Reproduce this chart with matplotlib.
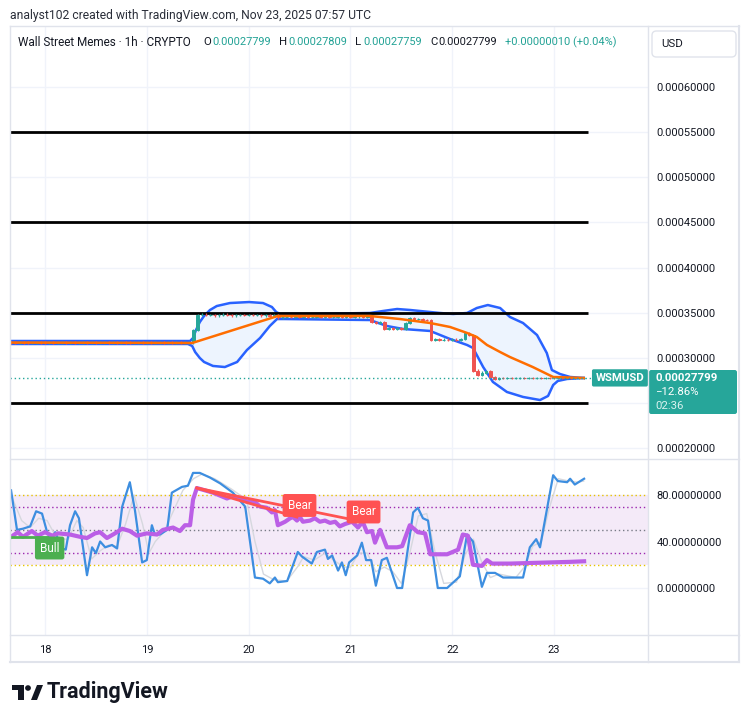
import numpy as np
import matplotlib
matplotlib.use("Agg")
import matplotlib.pyplot as plt
from matplotlib.patches import FancyBboxPatch, Circle, Polygon
from matplotlib.lines import Line2D

plt.rcParams['font.family'] = ['Roboto', 'DejaVu Sans']

W, H = 750, 723

# ---------------- data ----------------
# one bar per hour, first bar = Nov 17 16:00 UTC
days = ["18", "19", "20", "21", "22", "23"]
day_bar = [8, 32, 56, 80, 104, 128]

closes = [
    0.0003172, 0.0003169, 0.0003174, 0.0003170, 0.0003167, 0.0003171, 0.0003175, 0.0003170, 0.0003168, 0.0003173,
    0.0003169, 0.0003171, 0.0003174, 0.0003168, 0.0003170, 0.0003166, 0.0003171, 0.0003173, 0.0003169, 0.0003172,
    0.0003167, 0.0003170, 0.0003174, 0.0003169, 0.0003171, 0.0003168, 0.0003172, 0.0003170, 0.0003166, 0.0003170,
    0.0003173, 0.0003169, 0.0003171, 0.0003167, 0.0003170, 0.0003173, 0.0003168, 0.0003171, 0.0003169, 0.0003172,
    0.0003168, 0.0003170, 0.0003172,
    0.0003310, 0.0003476,
    0.0003481, 0.0003474, 0.0003478, 0.0003472, 0.0003477, 0.0003480, 0.0003475, 0.0003471, 0.0003476, 0.0003479,
    0.0003473, 0.0003477, 0.0003474, 0.0003478, 0.0003472, 0.0003476, 0.0003470, 0.0003474,
    0.0003448,
    0.0003452, 0.0003459, 0.0003455, 0.0003462, 0.0003457, 0.0003460, 0.0003454, 0.0003458, 0.0003463, 0.0003456,
    0.0003461, 0.0003455, 0.0003459, 0.0003464, 0.0003457, 0.0003461, 0.0003456, 0.0003460, 0.0003466, 0.0003458,
    0.0003462,
    0.0003400, 0.0003392, 0.0003395, 0.0003325, 0.0003335, 0.0003318, 0.0003330, 0.0003322, 0.0003387, 0.0003442,
    0.0003428, 0.0003433, 0.0003421, 0.0003417,
    0.0003200,
    0.0003207, 0.0003199, 0.0003204, 0.0003198, 0.0003203, 0.0003197, 0.0003210,
    0.0003272, 0.0003256, 0.0002860, 0.0002815, 0.0002838, 0.0002856, 0.0002792, 0.0002770,
    0.0002781, 0.0002777, 0.0002780, 0.0002776, 0.0002779, 0.0002782, 0.0002778, 0.0002780, 0.0002777, 0.0002781,
    0.0002778, 0.0002780, 0.0002776, 0.0002779, 0.0002781, 0.0002778, 0.0002780, 0.0002777, 0.0002779, 0.0002779,
    0.00027799,
]

# Bollinger bands (bar index, price)
upper_i = [0, 42.2, 42.9, 43.6, 44.5, 45.5, 46.9, 48.5, 51.6, 56.1, 59.4, 61.5, 62.5, 63.4, 70, 84.6, 87.7, 91.0,
           94.1, 96.4, 101.1, 104.2, 107.5, 109.8, 112.4, 115.3, 117.6, 120.7, 124.0, 126.3, 127.5, 129.4, 131.8, 135]
upper_p = [0.0003188, 0.0003188, 0.0003221, 0.0003310, 0.0003398, 0.0003465, 0.0003531, 0.0003575, 0.0003608,
           0.0003619, 0.0003608, 0.0003564, 0.0003509, 0.0003487, 0.0003487, 0.0003498, 0.0003520, 0.0003542,
           0.0003531, 0.0003520, 0.0003498, 0.0003487, 0.0003498, 0.0003553, 0.0003586, 0.0003553, 0.0003454,
           0.0003387, 0.0003254, 0.0003055, 0.0002867, 0.0002823, 0.0002790, 0.0002779]
lower_i = [0, 41.7, 42.7, 43.4, 44.5, 45.5, 47.6, 50.4, 53.3, 55.6, 58.7, 61.0, 62.7, 64.6, 84.6, 88.6, 92.4, 98.8,
           103.5, 107.5, 108.9, 111.3, 113.6, 116.9, 120.7, 124.7, 126.6, 127.8, 128.9, 131.1, 135]
lower_p = [0.0003155, 0.0003155, 0.0003133, 0.0003066, 0.0003000, 0.0002956, 0.0002912, 0.0002900, 0.0002956,
           0.0003088, 0.0003221, 0.0003354, 0.0003431, 0.0003431, 0.0003420, 0.0003354, 0.0003321, 0.0003299,
           0.0003210, 0.0003144, 0.0003111, 0.0002900, 0.0002735, 0.0002624, 0.0002569, 0.0002535, 0.0002580,
           0.0002701, 0.0002746, 0.0002768, 0.0002779]
mid_i = [0, 42.7, 62.9, 84.6, 91.7, 98.8, 103.5, 107.5, 109.8, 112.2, 115.3, 117.6, 123.0, 127.8, 135]
mid_p = [0.0003171, 0.0003166, 0.0003465, 0.0003465, 0.0003431, 0.0003387, 0.0003343, 0.0003277, 0.0003232,
         0.0003144, 0.0003066, 0.0003011, 0.0002900, 0.0002790, 0.0002779]

levels = [0.00055, 0.00045, 0.00035, 0.00025]
price_ticks = [0.0006, 0.00055, 0.0005, 0.00045, 0.0004, 0.00035, 0.0003, 0.0002]
grid_prices = [0.0006, 0.00055, 0.0005, 0.00045, 0.0004, 0.00035, 0.0003, 0.00025, 0.0002]
last_price = 0.00027799

# oscillator pane
blue_i = [0, 1.4, 2.8, 4.5, 5.9, 7.3, 8.5, 9.4, 10.4, 12.0, 12.9, 13.9, 15.1, 16.0, 17.9, 19.1, 20.0, 21.0, 22.2,
          23.8, 25.0, 26.2, 28.0, 29.2, 30.9, 32.0, 33.2, 33.9, 35.1, 36.8, 37.9, 40.3, 41.7, 42.9, 44.5, 46.9,
          49.3, 52.3, 55.2, 57.5, 59.4, 61.0, 62.2, 62.9, 65.1, 67.6, 68.6, 70.9, 72.1, 74.0, 74.7, 75.7, 77.1,
          78.0, 78.9, 79.7, 81.6, 82.7, 83.7, 84.9, 86.0, 87.4, 88.6, 91.0, 92.2, 94.8, 95.9, 97.1, 98.3, 100.6,
          102.8, 105.8, 107.5, 108.9, 111.0, 112.2, 114.1, 116.0, 120.7, 122.3, 123.8, 124.7, 127.8, 128.9, 131.1,
          131.8, 132.9, 135.1]
blue_v = [84, 50, 51, 53, 66, 64, 48, 42, 48, 34, 33, 54, 66, 60, 11, 35, 30, 40, 35,
          37, 34, 70, 91, 67, 22, 24, 54, 46, 46, 50, 82, 87, 88, 99, 99, 95,
          90, 82, 70, 9, 8, 4, 9, 5, 6, 31, 27, 21, 31, 33, 25, 28, 15,
          22, 11, 22, 28, 39, 24, 24, 2, 24, 26, 0, 0, 65, 69, 60, 58, 0,
          0, 10, 46, 40, 1, 13, 13, 9, 9, 35, 42, 35, 97, 92, 91,
          94, 89, 94]
gray_i = [0, 2.5, 4.5, 6.5, 8.5, 10, 12, 13.5, 15.5, 17, 19, 21, 23, 25, 27, 29, 31, 32.5, 34, 36, 38, 40.5, 43,
          45, 48, 52, 55.5, 57.5, 59.5, 62, 65, 67.5, 69, 71.5, 74, 76, 78.5, 80, 82, 84, 86, 88, 90, 92, 94, 96,
          98, 100, 102, 105, 107, 109, 111, 113, 115, 119, 121, 123, 125, 127, 129, 131.5, 133.5, 135]
gray_v = [80, 58, 52, 60, 58, 48, 42, 42, 58, 52, 25, 32, 37, 36, 55, 80, 55, 30, 40, 48, 64, 84, 94,
          98, 94, 85, 76, 40, 12, 7, 6, 18, 27, 24, 30, 24, 18, 18, 30, 30, 14, 18, 14, 4, 30, 62,
          64, 30, 4, 5, 28, 42, 22, 9, 12, 9, 18, 36, 40, 70, 94, 92, 91, 92]
rsi_i = [0, 1.6, 2.8, 4.9, 6.3, 8.0, 9.7, 11.1, 13.9, 16.3, 17.9, 19.8, 21.0, 22.6, 24.5, 26.2, 28.0, 29.7, 32.0,
         34.4, 35.8, 38.2, 39.8, 41.0, 42.2, 42.9, 43.8, 47.6, 50.9, 52.3, 53.9, 55.9, 57.5, 58.7, 60.3, 61.5,
         62.2, 62.9, 64.6, 65.8, 66.5, 67.4, 68.1, 68.8, 70.5, 71.6, 72.8, 74.0, 75.2, 76.4, 77.5, 78.7, 80.4,
         81.8, 82.9, 83.9, 85.1, 85.8, 87.0, 88.6, 91.0, 92.2, 94.0, 95.9, 97.6, 98.8, 102.8, 105.4, 106.5,
         107.7, 108.9, 111.0, 112.2, 113.4, 117.6, 122.3, 127.1, 131.8, 135.1]
rsi_v = [44, 48, 44, 49, 45, 48, 45, 47, 46, 44, 43, 47, 48, 43, 47, 51, 49, 45, 47,
         46, 50, 52, 49, 54, 54, 76, 86, 82, 77, 79, 77, 74, 74, 70, 69, 65,
         67, 54, 57, 60, 61, 58, 61, 57, 58, 60, 57, 58, 56, 57, 53, 55, 57,
         52, 57, 48, 49, 39, 50, 35, 35, 36, 54, 48, 47, 29, 29, 33, 46,
         45, 20, 19, 24, 21, 21, 21.5, 22, 22.5, 23]

bear_start = (43.8, 86)
bear_ends = [(67.4, 61), (82.9, 57)]
bear_labels = [(68.0, 71), (83.1, 65.4)]
bull_line = ([0, 8.5], [44, 44])
bull_label = (9.1, 34.4)

osc_ticks = [80, 40, 0]

# ---------------- figure ----------------
TXT = '#131722'
GRID = '#f0f3fa'
BORDER = '#e0e3eb'
UP, DOWN = '#26a69a', '#ef5350'

fig = plt.figure(figsize=(7.5, 7.23), dpi=100)
fig.patch.set_facecolor('white')


def fx(x):
    return x / W


def fy(y):
    return 1 - y / H


ax = fig.add_axes([fx(10), fy(459), (648 - 10) / W, (459 - 26) / H])
ax2 = fig.add_axes([fx(10), fy(635), (648 - 10) / W, (635 - 459) / H])
for a in (ax, ax2):
    for s in a.spines.values():
        s.set_visible(False)
    a.set_xlim(-0.25, 150.16)
    for d in day_bar:
        a.axvline(d, color=GRID, lw=1, zorder=0)

# ---- price pane ----
ax.set_ylim(0.00018827, 0.00066726)
for g in grid_prices:
    ax.axhline(g, color=GRID, lw=1, zorder=0)

poly_x = np.concatenate([upper_i, lower_i[::-1]])
poly_y = np.concatenate([upper_p, lower_p[::-1]])
ax.fill(poly_x, poly_y, color='#edf4fe', zorder=1, lw=0)
ax.plot(upper_i, upper_p, color='#2962ff', lw=1.8, zorder=2, solid_joinstyle='round')
ax.plot(lower_i, lower_p, color='#2962ff', lw=1.8, zorder=2, solid_joinstyle='round')

ax.hlines(levels, -0.25, 136.0, color='black', lw=2, zorder=2.5)

c = np.array(closes)
o = np.concatenate([[c[0] + 0.0000002], c[:-1]])
xb = np.arange(len(c))
hi = np.maximum(o, c) + 0.0000013
lo = np.minimum(o, c) - 0.0000013
cols = [UP if cc >= oo else DOWN for oo, cc in zip(o, c)]
ax.vlines(xb, lo, hi, colors=cols, lw=0.9, zorder=3)
ax.bar(xb, c - o, bottom=o, width=0.62, color=cols, edgecolor=cols, lw=0.7, zorder=3)

ax.plot(mid_i, mid_p, color='#ff6d00', lw=1.8, zorder=4)

ax.hlines(last_price, -0.25, 138.3, color='#26a69a', lw=1, linestyles=(0, (1, 2)), zorder=4)
ax.text(149.3, last_price, 'WSMUSD', color='white', fontsize=8.2, fontweight='bold', ha='right', va='center',
        bbox=dict(boxstyle='round,pad=0.32,rounding_size=0.15', fc='#26a69a', ec='none'), zorder=6)

ax.yaxis.tick_right()
ax.set_yticks(price_ticks)
ax.set_yticklabels([f'{v:.8f}' for v in price_ticks])
ax.tick_params(axis='y', length=0, pad=6, labelsize=8, colors=TXT)
ax.set_xticks([])

# ---- oscillator pane ----
ax2.set_ylim(-40.43, 110.97)
for g in [80, 40, 0]:
    ax2.axhline(g, color=GRID, lw=1, zorder=0)
ax2.axhspan(20, 80, color='#f4eaf8', zorder=0.5, lw=0)
ax2.axhline(80, color='#e6c300', lw=1, ls=(0, (1, 2)), zorder=1)
ax2.axhline(20, color='#e6c300', lw=1, ls=(0, (1, 2)), zorder=1)
ax2.axhline(70, color='#9c27b0', lw=1, ls=(0, (1, 2)), zorder=1)
ax2.axhline(30, color='#9c27b0', lw=1, ls=(0, (1, 2)), zorder=1)
ax2.axhline(50, color='#787b86', lw=1, ls=(0, (1, 2)), zorder=1)

ax2.plot(gray_i, gray_v, color='#d6d8de', lw=1, zorder=2)
ax2.plot(blue_i, blue_v, color='#3d8ee0', lw=1.6, zorder=3)
ax2.plot(rsi_i, rsi_v, color='#bb5fe6', lw=3, zorder=4, solid_joinstyle='round')

for e in bear_ends:
    ax2.plot([bear_start[0], e[0]], [bear_start[1], e[1]], color='#ff5252', lw=2, zorder=5)
for (lx, ly) in bear_labels:
    ax2.text(lx, ly, 'Bear', color='white', fontsize=8.5, ha='center', va='center', zorder=6,
             bbox=dict(boxstyle='round,pad=0.42,rounding_size=0.2', fc='#ff5252', ec='none'))
ax2.plot(bull_line[0], bull_line[1], color='#4caf50', lw=2, zorder=5)
ax2.text(bull_label[0], bull_label[1], 'Bull', color='white', fontsize=8.5, ha='center', va='center', zorder=6,
         bbox=dict(boxstyle='round,pad=0.42,rounding_size=0.2', fc='#4caf50', ec='none'))

ax2.yaxis.tick_right()
ax2.set_yticks(osc_ticks)
ax2.set_yticklabels([f'{v:.8f}' for v in osc_ticks])
ax2.tick_params(axis='y', length=0, pad=6, labelsize=8, colors=TXT)
ax2.set_xticks(day_bar)
ax2.set_xticklabels(days)
ax2.tick_params(axis='x', length=0, pad=7, labelsize=8, colors=TXT)

# ---- frame lines ----
def fline(x0, y0, x1, y1, col=BORDER, lw=1):
    fig.add_artist(Line2D([fx(x0), fx(x1)], [fy(y0), fy(y1)], color=col, lw=lw, transform=fig.transFigure))


fline(10, 26, 739, 26)
fline(10, 662, 739, 662, lw=1.5)
fline(10, 26, 10, 662)
fline(739, 26, 739, 662, lw=1.5)
fline(648, 26, 648, 662)
fline(10, 459, 739, 459)
fline(10, 635, 739, 635)

# ---- price label on axis ----
fig.add_artist(FancyBboxPatch((fx(649), fy(414)), (737 - 649) / W, (414 - 370) / H,
                              boxstyle='round,pad=0,rounding_size=0.003', fc='#26a69a', ec='none',
                              transform=fig.transFigure))
fig.text(fx(655), fy(378), '0.00027799', color='white', fontsize=8.2, fontweight='bold', va='center')
fig.text(fx(655), fy(392), '\u221212.86%', color='white', fontsize=8.2, va='center')
fig.text(fx(655), fy(406), '02:36', color='#d9f2ef', fontsize=8.2, va='center')

# ---- header ----
fig.text(fx(10), fy(15), 'analyst102 created with TradingView.com, Nov 23, 2025 07:57 UTC',
         color='#2a2e39', fontsize=8.7, va='center')
VAL = '#22a295'
head = [(18, 'Wall Street Memes \u00b7 1h \u00b7 CRYPTO', TXT, 8.5), (203, 'O', TXT, 8.2),
        (212, '0.00027799', VAL, 7.9), (279, 'H', TXT, 8.2), (288, '0.00027809', VAL, 7.9),
        (355, 'L', TXT, 8.2), (363, '0.00027759', VAL, 7.9), (430, 'C', TXT, 8.2),
        (438, '0.00027799', TXT, 7.9), (505, '+0.00000010 (+0.04%)', VAL, 7.9)]
for hx, s, col, fs in head:
    fig.text(fx(hx), fy(42), s, color=col, fontsize=fs, va='center')

fig.add_artist(FancyBboxPatch((fx(652), fy(57)), (736 - 652) / W, (57 - 31) / H,
                              boxstyle='round,pad=0,rounding_size=0.006', fc='white', ec=BORDER, lw=1,
                              transform=fig.transFigure))
fig.text(fx(661), fy(44), 'USD', color=TXT, fontsize=8.2, va='center')

# ---- TradingView logo ----
def pxpoly(pts):
    return [(fx(x), fy(y)) for x, y in pts]


fig.add_artist(Polygon(pxpoly([(12, 685), (24, 685), (24, 700), (18, 700), (18, 690), (12, 690)]),
                       closed=True, fc=TXT, ec='none', transform=fig.transFigure))
fig.add_artist(Circle((fx(28), fy(688)), 2.9 / W, fc=TXT, ec='none', transform=fig.transFigure))
fig.add_artist(Polygon(pxpoly([(31, 700), (37, 685), (43, 685), (37, 700)]),
                       closed=True, fc=TXT, ec='none', transform=fig.transFigure))
fig.text(fx(47), fy(692), 'TradingView', color=TXT, fontsize=15.5, fontweight='bold', va='center')

fig.savefig('out.png', dpi=100, facecolor='white')
